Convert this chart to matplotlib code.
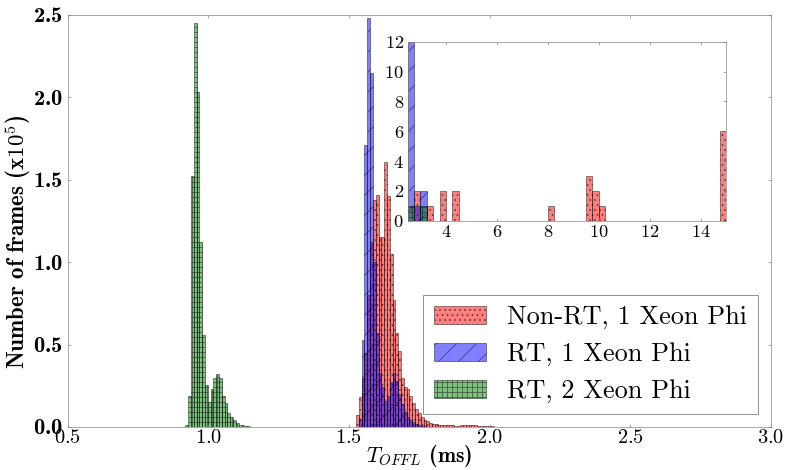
import numpy as np
import matplotlib
matplotlib.use("Agg")
import matplotlib.pyplot as plt

# ─────────────────────────────────────────────
# Data (counts in units of 1e5 frames, 0.01 ms bins)
# ─────────────────────────────────────────────
BIN_W = 0.01

red_start = 1.525
red_counts = [0.07, 0.18, 0.30, 0.45, 0.80, 1.12, 1.38, 1.41, 1.15, 1.15,
              1.61, 1.40, 1.05, 0.77, 0.57, 0.46, 0.30, 0.24, 0.23, 0.19,
              0.145, 0.11, 0.085, 0.06, 0.045, 0.035, 0.025, 0.02, 0.017, 0.015,
              0.013, 0.012, 0.011, 0.010, 0.010, 0.009, 0.009, 0.010, 0.011, 0.012,
              0.012, 0.011, 0.010, 0.009, 0.008, 0.007, 0.006, 0.005, 0.004, 0.003]

blue_start = 1.535
blue_counts = [0.05, 0.53, 1.71, 2.48, 2.15, 1.00, 0.57, 0.33, 0.24, 0.16,
               0.19, 0.27, 0.33, 0.28, 0.20, 0.14, 0.09, 0.06, 0.04, 0.03,
               0.02, 0.012, 0.008, 0.005]

green_start = 0.918
green_counts = [0.01, 0.19, 1.52, 2.45, 2.03, 1.12, 0.56, 0.255, 0.15, 0.23,
                0.30, 0.32, 0.30, 0.19, 0.145, 0.085, 0.06, 0.04, 0.025, 0.015,
                0.010, 0.006, 0.004, 0.003, 0.002, 0.002]

labels = ["Non-RT, 1 Xeon Phi", "RT, 1 Xeon Phi", "RT, 2 Xeon Phi"]

# inset: outliers, 0.25 ms bins, raw frame counts
INSET_W = 0.25
inset_red_left = [2.75, 3.25, 3.75, 4.25, 8.0, 9.5, 9.75, 10.0, 14.75]
inset_red_count = [2, 1, 2, 2, 1, 3, 2, 1, 6]
inset_blue_left = [2.5, 2.75, 3.0]
inset_blue_count = [12, 1, 2]
inset_green_left = [2.5, 3.0]
inset_green_count = [1, 1]

# ─────────────────────────────────────────────
# Style
# ─────────────────────────────────────────────
DPI = 60
GREY = "#808080"
plt.rcParams["mathtext.fontset"] = "cm"
plt.rcParams["font.family"] = "cmr10"
plt.rcParams["axes.formatter.use_mathtext"] = True
plt.rcParams["hatch.linewidth"] = 1.0

STYLES = [
    dict(color="r", hatch=".."),
    dict(color="b", hatch="/"),
    dict(color="g", hatch="++"),
]

fig = plt.figure(figsize=(785 / DPI, 470 / DPI), dpi=DPI)
ax = fig.add_axes([0.0862, 0.0915, 0.8959, 0.8766])

series = [(red_start, red_counts), (blue_start, blue_counts), (green_start, green_counts)]
for (start, counts), st, lab in zip(series, STYLES, labels):
    x = start + BIN_W * np.arange(len(counts))
    ax.bar(x, counts, width=BIN_W, align="edge", color=st["color"],
           edgecolor="k", linewidth=1.0, alpha=0.5, hatch=st["hatch"], label=lab)

ax.set_xlim(0.5, 3.0)
ax.set_ylim(0, 2.5)
ax.set_xticks(np.arange(0.5, 3.01, 0.5))
ax.set_yticks(np.arange(0, 2.51, 0.5))
ax.tick_params(direction="in", top=True, right=True, length=4, color=GREY)
ax.tick_params(axis="x", pad=2, labelsize=24.5)
ax.tick_params(axis="y", pad=6, labelsize=27, labelfontfamily="cmb10")
for s in ax.spines.values():
    s.set_color(GREY)

ax.set_xlabel(r"$T_{OFFL}$ (ms)", family="cmb10", fontsize=26, labelpad=-4)
ax.set_ylabel(r"Number of frames (x$10^5$)", family="cmb10", fontsize=27.5)
ax.yaxis.set_label_coords(-0.05, 0.45)

leg = ax.legend(loc="lower right", prop={"family": "cmr10", "size": 31.5},
                fancybox=False, framealpha=1, edgecolor=GREY,
                borderaxespad=0.5, borderpad=0.4, handlelength=2.0,
                handletextpad=0.8, labelspacing=0.5)
leg.get_frame().set_linewidth(1.0)

# ── Inset: outliers ───────────────────────────
ins = fig.add_axes([0.5194, 0.5304, 0.4055, 0.3809])
inset_series = [(inset_red_left, inset_red_count),
                (inset_blue_left, inset_blue_count),
                (inset_green_left, inset_green_count)]
for (left, cnt), st in zip(inset_series, STYLES):
    ins.bar(left, cnt, width=INSET_W, align="edge", color=st["color"],
            edgecolor="k", linewidth=1.0, alpha=0.5, hatch=st["hatch"])

ins.set_xlim(2.5, 15)
ins.set_ylim(0, 12)
ins.set_xticks([4, 6, 8, 10, 12, 14])
ins.set_yticks([0, 2, 4, 6, 8, 10, 12])
ins.tick_params(direction="in", top=True, right=True, length=4, color=GREY,
                labelsize=22, pad=4.5)
for s in ins.spines.values():
    s.set_color(GREY)

fig.savefig("out.png", dpi=DPI, facecolor="white")
